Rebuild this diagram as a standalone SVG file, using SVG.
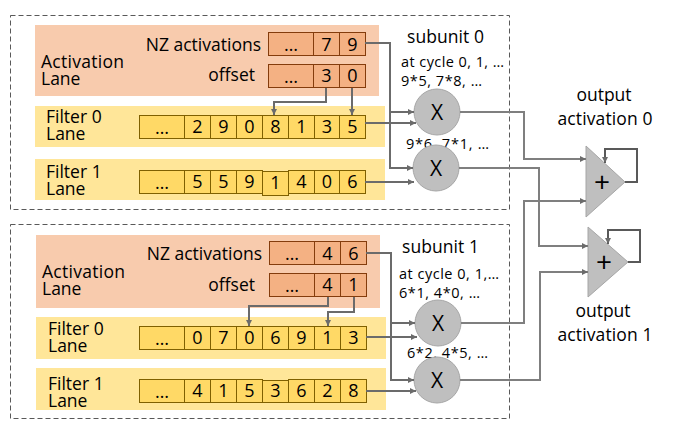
<svg xmlns="http://www.w3.org/2000/svg" width="679" height="432" viewBox="0 0 679 432">
<defs>
<marker id="ah" viewBox="0 0 8 8" refX="8" refY="4" markerWidth="6" markerHeight="6" markerUnits="userSpaceOnUse" orient="auto">
<path d="M0,0 L8,4 L0,8 z" fill="#6b6b6b"/>
</marker>
<style>
text{font-family:"Open Sans","Liberation Sans",sans-serif;fill:#000;}
.lbl{font-size:17.5px;}
.sm{font-size:14.5px;}
.dig{font-size:18px;text-anchor:middle;}
.box{fill:none;stroke:#595959;stroke-width:1;stroke-dasharray:5,3;}
.alane{fill:#F8CBAD;}
.flane{fill:#FFE699;}
.acell{fill:#F4B183;stroke:#843C0C;stroke-width:1;}
.fcell{fill:#FFD966;stroke:#7F6000;stroke-width:1;}
.mul{fill:#BFBFBF;stroke:#A6A6A6;stroke-width:1;}
.add{fill:#BFBFBF;stroke:#A6A6A6;stroke-width:1;}
.lna{fill:none;stroke:#6b6b6b;stroke-width:2;marker-end:url(#ah);}
.out{fill:none;stroke:#7f7f7f;stroke-width:2;marker-end:url(#ah);}
.fb{fill:none;stroke:#595959;stroke-width:2;marker-end:url(#ah);}
.big{font-size:21px;}
.plus{font-size:28px;}
</style>
</defs>

<!-- Subunit 0 -->
<g id="subunit0">
<rect class="box" x="10.5" y="15.5" width="499" height="194"/>
<text class="lbl" x="407" y="43" textLength="77">subunit 0</text>
<text class="sm" x="401" y="67" textLength="103">at cycle 0, 1, …</text>
<text class="sm" x="401" y="86" textLength="81">9*5, 7*8, …</text>
<text class="sm" x="406" y="149" textLength="83">9*6, 7*1, …</text>
</g>

<g id="act-lane-0">
<rect class="alane" x="35" y="25" width="344" height="71"/>
<text class="lbl" x="41" y="68" textLength="83">Activation</text>
<text class="lbl" x="41" y="85">Lane</text>
<text class="lbl" x="261" y="51" text-anchor="end">NZ activations</text>
<text class="lbl" x="255" y="81" text-anchor="end">offset</text>
<rect class="acell" x="268.5" y="32.5" width="45" height="23"/>
<rect class="acell" x="313.5" y="32.5" width="26" height="23"/>
<rect class="acell" x="339.5" y="32.5" width="26" height="23"/>
<text class="dig" x="291" y="51">…</text>
<text class="dig" x="326.5" y="51">7</text>
<text class="dig" x="352.5" y="51">9</text>
<rect class="acell" x="268.5" y="64.5" width="45" height="23"/>
<rect class="acell" x="313.5" y="64.5" width="26" height="23"/>
<rect class="acell" x="339.5" y="64.5" width="26" height="23"/>
<text class="dig" x="291" y="83">…</text>
<text class="dig" x="326.5" y="82">3</text>
<text class="dig" x="352.5" y="82">0</text>
</g>

<g id="filter0-lane-0">
<rect class="flane" x="35" y="106" width="350" height="41"/>
<text class="lbl" x="46" y="123">Filter 0</text>
<text class="lbl" x="46" y="140">Lane</text>
<rect class="fcell" x="139.5" y="115.5" width="45" height="23"/>
<rect class="fcell" x="184.5" y="115.5" width="26" height="23"/>
<rect class="fcell" x="210.5" y="115.5" width="26" height="23"/>
<rect class="fcell" x="236.5" y="115.5" width="26" height="23"/>
<rect class="fcell" x="262.5" y="115.5" width="26" height="23"/>
<rect class="fcell" x="288.5" y="115.5" width="26" height="23"/>
<rect class="fcell" x="314.5" y="115.5" width="25" height="23"/>
<rect class="fcell" x="339.5" y="115.5" width="26" height="23"/>
<text class="dig" x="162" y="134">…</text>
<text class="dig" x="197.5" y="133">2</text>
<text class="dig" x="223.5" y="133">9</text>
<text class="dig" x="249.5" y="133">0</text>
<text class="dig" x="275.5" y="133">8</text>
<text class="dig" x="301.5" y="133">1</text>
<text class="dig" x="327" y="133">3</text>
<text class="dig" x="352.5" y="133">5</text>
</g>

<g id="filter1-lane-0">
<rect class="flane" x="35" y="159" width="350" height="41"/>
<text class="lbl" x="46" y="178">Filter 1</text>
<text class="lbl" x="46" y="195">Lane</text>
<rect class="fcell" x="139.5" y="170.5" width="45" height="23"/>
<rect class="fcell" x="184.5" y="170.5" width="26" height="23"/>
<rect class="fcell" x="210.5" y="170.5" width="26" height="23"/>
<rect class="fcell" x="236.5" y="170.5" width="26" height="23"/>
<rect class="fcell" x="288.5" y="170.5" width="26" height="23"/>
<rect class="fcell" x="314.5" y="170.5" width="25" height="23"/>
<rect class="fcell" x="339.5" y="170.5" width="26" height="23"/>
<rect class="fcell" x="262.5" y="171.5" width="26" height="24"/>
<text class="dig" x="162" y="189">…</text>
<text class="dig" x="197.5" y="188">5</text>
<text class="dig" x="223.5" y="188">5</text>
<text class="dig" x="249.5" y="188">9</text>
<text class="dig" x="275.5" y="189">1</text>
<text class="dig" x="301.5" y="188">4</text>
<text class="dig" x="327" y="188">0</text>
<text class="dig" x="352.5" y="188">6</text>
</g>

<g id="mul-0a"><circle class="mul" cx="437" cy="112" r="23"/><text class="dig big" x="437" y="119.5">X</text></g>
<g id="mul-0b"><circle class="mul" cx="436" cy="168" r="23"/><text class="dig big" x="436" y="175.5">X</text></g>

<!-- Subunit 1 -->
<g id="subunit1">
<rect class="box" x="10.5" y="224.5" width="499" height="194"/>
<text class="lbl" x="402" y="253" textLength="77">subunit 1</text>
<text class="sm" x="399" y="279" textLength="100">at cycle 0, 1,…</text>
<text class="sm" x="399" y="298" textLength="81">6*1, 4*0, …</text>
<text class="sm" x="407" y="358" textLength="81">6*2, 4*5, …</text>
</g>

<g id="act-lane-1">
<rect class="alane" x="36" y="235" width="344" height="73"/>
<text class="lbl" x="42" y="278" textLength="83">Activation</text>
<text class="lbl" x="42" y="295">Lane</text>
<text class="lbl" x="262" y="260" text-anchor="end">NZ activations</text>
<text class="lbl" x="255" y="291" text-anchor="end">offset</text>
<rect class="acell" x="269.5" y="241.5" width="45" height="23"/>
<rect class="acell" x="314.5" y="241.5" width="26" height="23"/>
<rect class="acell" x="340.5" y="241.5" width="26" height="23"/>
<text class="dig" x="292" y="260">…</text>
<text class="dig" x="327.5" y="260">4</text>
<text class="dig" x="353.5" y="260">6</text>
<rect class="acell" x="269.5" y="273.5" width="45" height="23"/>
<rect class="acell" x="314.5" y="273.5" width="26" height="23"/>
<rect class="acell" x="340.5" y="273.5" width="26" height="23"/>
<text class="dig" x="292" y="292">…</text>
<text class="dig" x="327.5" y="291">4</text>
<text class="dig" x="353.5" y="291">1</text>
</g>

<g id="filter0-lane-1">
<rect class="flane" x="36" y="317" width="350" height="42"/>
<text class="lbl" x="48" y="335">Filter 0</text>
<text class="lbl" x="48" y="352">Lane</text>
<rect class="fcell" x="139.5" y="326.5" width="45" height="23"/>
<rect class="fcell" x="184.5" y="326.5" width="26" height="23"/>
<rect class="fcell" x="210.5" y="326.5" width="26" height="23"/>
<rect class="fcell" x="236.5" y="326.5" width="26" height="23"/>
<rect class="fcell" x="262.5" y="326.5" width="26" height="23"/>
<rect class="fcell" x="288.5" y="326.5" width="26" height="23"/>
<rect class="fcell" x="314.5" y="326.5" width="26" height="23"/>
<rect class="fcell" x="340.5" y="326.5" width="26" height="23"/>
<text class="dig" x="162" y="345">…</text>
<text class="dig" x="197.5" y="344">0</text>
<text class="dig" x="223.5" y="344">7</text>
<text class="dig" x="249.5" y="344">0</text>
<text class="dig" x="275.5" y="344">6</text>
<text class="dig" x="301.5" y="344">9</text>
<text class="dig" x="327.5" y="344">1</text>
<text class="dig" x="353.5" y="344">3</text>
</g>

<g id="filter1-lane-1">
<rect class="flane" x="36" y="368" width="350" height="42"/>
<text class="lbl" x="48" y="390">Filter 1</text>
<text class="lbl" x="48" y="407">Lane</text>
<rect class="fcell" x="139.5" y="379.5" width="45" height="23"/>
<rect class="fcell" x="184.5" y="379.5" width="26" height="23"/>
<rect class="fcell" x="210.5" y="379.5" width="26" height="23"/>
<rect class="fcell" x="236.5" y="379.5" width="26" height="23"/>
<rect class="fcell" x="288.5" y="379.5" width="26" height="23"/>
<rect class="fcell" x="314.5" y="379.5" width="26" height="23"/>
<rect class="fcell" x="340.5" y="379.5" width="26" height="23"/>
<rect class="fcell" x="262.5" y="380.5" width="26" height="22"/>
<text class="dig" x="162" y="398">…</text>
<text class="dig" x="197.5" y="397">4</text>
<text class="dig" x="223.5" y="397">1</text>
<text class="dig" x="249.5" y="397">5</text>
<text class="dig" x="275.5" y="397">3</text>
<text class="dig" x="301.5" y="397">6</text>
<text class="dig" x="327.5" y="397">2</text>
<text class="dig" x="353.5" y="397">8</text>
</g>

<g id="mul-1a"><circle class="mul" cx="438" cy="323" r="23"/><text class="dig big" x="438" y="330.5">X</text></g>
<g id="mul-1b"><circle class="mul" cx="437" cy="380" r="23"/><text class="dig big" x="437" y="387.5">X</text></g>

<!-- Adders -->
<g id="adder0">
<polygon class="add" points="586,146 586,217 625,182"/>
<text class="dig plus" x="602" y="192">+</text>
<text class="lbl" x="604" y="101" text-anchor="middle">output</text>
<text class="lbl" x="605" y="125" text-anchor="middle" textLength="95">activation 0</text>
</g>
<g id="adder1">
<polygon class="add" points="588,227 588,297 628,262"/>
<text class="dig plus" x="604" y="272">+</text>
<text class="lbl" x="603" y="317" text-anchor="middle">output</text>
<text class="lbl" x="605" y="341" text-anchor="middle" textLength="95">activation 1</text>
</g>

<!-- Connectors -->
<g id="connectors">
<path class="lna" d="M326,88 V102 H274 V115"/>
<path class="lna" d="M352,88 V115"/>
<path class="lna" d="M365,43 H390 V168 H413"/>
<path class="lna" d="M390,112 H414"/>
<path class="lna" d="M365,123 H416"/>
<path class="lna" d="M365,182 H414"/>

<path class="lna" d="M328,297 V306 H249 V326"/>
<path class="lna" d="M354,297 V312 H328 V326"/>
<path class="lna" d="M366,253 H391 V380 H414"/>
<path class="lna" d="M391,323 H415"/>
<path class="lna" d="M366,337 H417"/>
<path class="lna" d="M366,391 H416"/>

<path class="out" d="M460,112 H524 V159 H586"/>
<path class="out" d="M459,168 H539 V246 H588"/>
<path class="out" d="M461,323 H524 V201 H586"/>
<path class="out" d="M460,380 H540 V272 H588"/>

<path class="fb" d="M625,182 H637 V149 H605 V163"/>
<path class="fb" d="M628,262 H640 V230 H608 V244"/>
</g>
</svg>
